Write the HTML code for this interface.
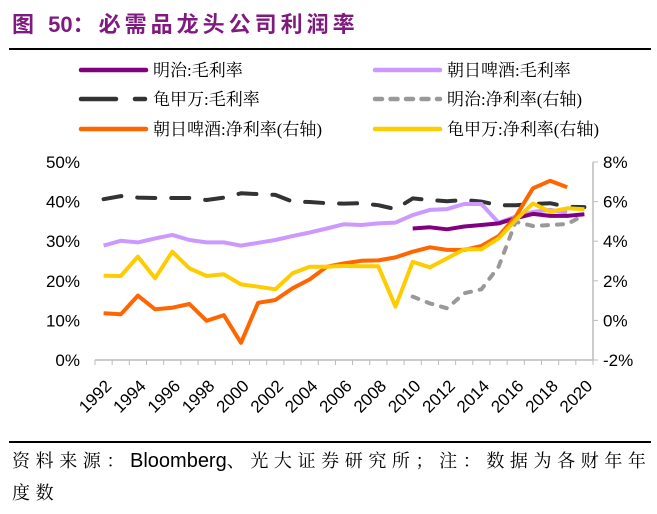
<!DOCTYPE html>
<html><head><meta charset="utf-8"><style>
body{margin:0;background:#fff;width:657px;height:514px;overflow:hidden;font-family:"Liberation Sans","Noto Sans CJK SC",sans-serif}
svg{position:absolute;left:0;top:0}
</style></head><body>
<svg width="657" height="514" id="chart">
<text x="12" y="32" font-size="22" font-weight="bold" fill="#7f1a7f" letter-spacing="4" font-family="Liberation Sans,Noto Sans CJK SC,sans-serif">图 <tspan letter-spacing="0">50</tspan>：必需品龙头公司利润率</text>
<line x1="9" y1="49" x2="651" y2="49" stroke="#000" stroke-width="2"/>
<g id="legend" font-size="17" font-family="Liberation Serif,Noto Serif CJK SC,serif"></g>
<g id="axes"></g>
<g id="series"></g>
<line x1="9" y1="442" x2="651" y2="442" stroke="#000" stroke-width="2"/>
<text x="12" y="467" font-size="18" letter-spacing="5.6" font-family="Noto Serif CJK SC,serif">资料来源：<tspan font-family="Liberation Sans,sans-serif" letter-spacing="0" font-size="20">Bloomberg</tspan>、光大证券研究所；注：数据为各财年年</text>
<text x="12" y="499" font-size="18" letter-spacing="5.6" font-family="Noto Serif CJK SC,serif">度数</text>
</svg>
<script>
const years=[1992,1993,1994,1995,1996,1997,1998,1999,2000,2001,2002,2003,2004,2005,2006,2007,2008,2009,2010,2011,2012,2013,2014,2015,2016,2017,2018,2019,2020];
const kikkomanGross=[40.6,41.4,41,40.9,40.9,40.9,40.4,41,42.1,41.9,41.7,40,39.9,39.6,39.5,39.6,39.1,38.1,40.8,40.4,40.1,40.4,40,39.1,39.1,39.4,39.6,38.7,38.6];
const asahiGross=[28.9,30.1,29.7,30.7,31.6,30.3,29.7,29.7,28.9,29.6,30.3,31.3,32.2,33.2,34.3,34.1,34.5,34.7,36.6,37.9,38.1,39.4,39.4,34.7,36.2,37.4,37.9,37.2,null];
const meijiGross=[null,null,null,null,null,null,null,null,null,null,null,null,null,null,null,null,null,null,33.2,33.5,33,33.7,34.1,34.5,35.8,36.9,36.4,36.4,36.8];
const asahiNet=[0.36,0.31,1.25,0.56,0.64,0.83,-0.02,0.27,-1.13,0.89,1.03,1.62,2.07,2.71,2.88,3.01,3.03,3.18,3.47,3.69,3.56,3.56,3.76,4.26,5.24,6.67,7.05,6.72,null];
const kikkomanNet=[2.26,2.24,3.22,2.13,3.47,2.63,2.24,2.33,1.82,1.70,1.57,2.38,2.71,2.71,2.75,2.73,2.73,0.69,2.96,2.68,3.13,3.59,3.59,4.14,5.07,5.91,5.49,5.66,5.61];
const meijiNet=[null,null,null,null,null,null,null,null,null,null,null,null,null,null,null,null,null,null,1.2,0.86,0.61,1.37,1.57,2.71,4.98,4.77,4.82,4.87,5.32];
const leftTicks=[0,10,20,30,40,50];
const rightTicks=[-2,0,2,4,6,8];
const NS='http://www.w3.org/2000/svg';
const X0=95,X1=593,Y0=360,Y1=162;
const bw=(X1-X0)/years.length;
const xs=i=>X0+bw*(i+0.5);
const yl=v=>Y0-(v-0)/(50-0)*(Y0-Y1);
const yr=v=>Y0-(v+2)/(10)*(Y0-Y1);
function mk(tag,attrs,parent){const e=document.createElementNS(NS,tag);for(const k in attrs)e.setAttribute(k,attrs[k]);parent.appendChild(e);return e;}
const axes=document.getElementById('axes');
const ax=mk('line',{x1:X0,y1:Y0,x2:X1,y2:Y0,stroke:'#bbb','stroke-width':1.5},axes);


for(let i=0;i<=years.length;i++){const t=mk('line',{x1:X0+bw*i,y1:Y0,x2:X0+bw*i,y2:Y0+5,stroke:'#bbb'},axes);

}
years.forEach((y,i)=>{if(i%2)return;const x=xs(i)+9,yy=Y0+27;
const t=mk('text',{x:x,y:yy,'font-size':17,'text-anchor':'end',transform:`rotate(-45 ${x} ${yy})`},axes);t.textContent=y;

});
const ar=mk('line',{x1:X1,y1:Y1,x2:X1,y2:Y0,stroke:'#bbb','stroke-width':1.5},axes);


leftTicks.forEach(v=>{const t=mk('text',{x:80,y:yl(v)+6,'font-size':17,'text-anchor':'end'},axes);t.textContent=v+'%';

});
rightTicks.forEach(v=>{const l=mk('line',{x1:X1,y1:yr(v),x2:X1+5,y2:yr(v),stroke:'#bbb'},axes);


const t=mk('text',{x:603,y:yr(v)+6,'font-size':17},axes);t.textContent=v+'%';

});
const series=document.getElementById('series');
function line(data,yf,color,dash,name){let d='',pen=false;data.forEach((v,i)=>{if(v==null){pen=false;return;}d+=(pen?'L':'M')+xs(i).toFixed(1)+','+yf(v).toFixed(1);pen=true;});
const p=mk('path',{d:d,fill:'none',stroke:color,'stroke-width':4,'stroke-linejoin':'round','stroke-linecap':dash?'round':'butt'},series);if(dash)p.setAttribute('stroke-dasharray',dash);

}
line(kikkomanGross,yl,'#333333','18 16','kikkoman-gross-line');
line(meijiNet,yr,'#999999','6 9','meiji-net-line');
line(asahiGross,yl,'#cc99ff',null,'asahi-gross-line');
line(meijiGross,yl,'#800080',null,'meiji-gross-line');
line(asahiNet,yr,'#ff6600',null,'asahi-net-line');
line(kikkomanNet,yr,'#ffcc00',null,'kikkoman-net-line');
const leg=document.getElementById('legend');
const items=[['明治:毛利率','#800080',null,81,70],['朝日啤酒:毛利率','#cc99ff',null,375,70],['龟甲万:毛利率','#333333','dashA',81,99],['明治:净利率(右轴)','#999999','7 8.5',375,99],['朝日啤酒:净利率(右轴)','#ff6600',null,81,129],['龟甲万:净利率(右轴)','#ffcc00',null,375,129]];
items.forEach(it=>{const g=mk('g',{},leg);


if(it[2]==='dashA'){mk('line',{x1:it[3],y1:it[4],x2:it[3]+35,y2:it[4],stroke:it[1],'stroke-width':4.5,'stroke-linecap':'round'},g);mk('line',{x1:it[3]+54,y1:it[4],x2:it[3]+64,y2:it[4],stroke:it[1],'stroke-width':4.5,'stroke-linecap':'round'},g);}
else{const l=mk('line',{x1:it[3],y1:it[4],x2:it[3]+65,y2:it[4],stroke:it[1],'stroke-width':4.5,'stroke-linecap':'round'},g);if(it[2])l.setAttribute('stroke-dasharray',it[2]);}
const t=mk('text',{x:it[3]+72,y:it[4]+6},g);t.textContent=it[0];});
</script>
</body></html>
